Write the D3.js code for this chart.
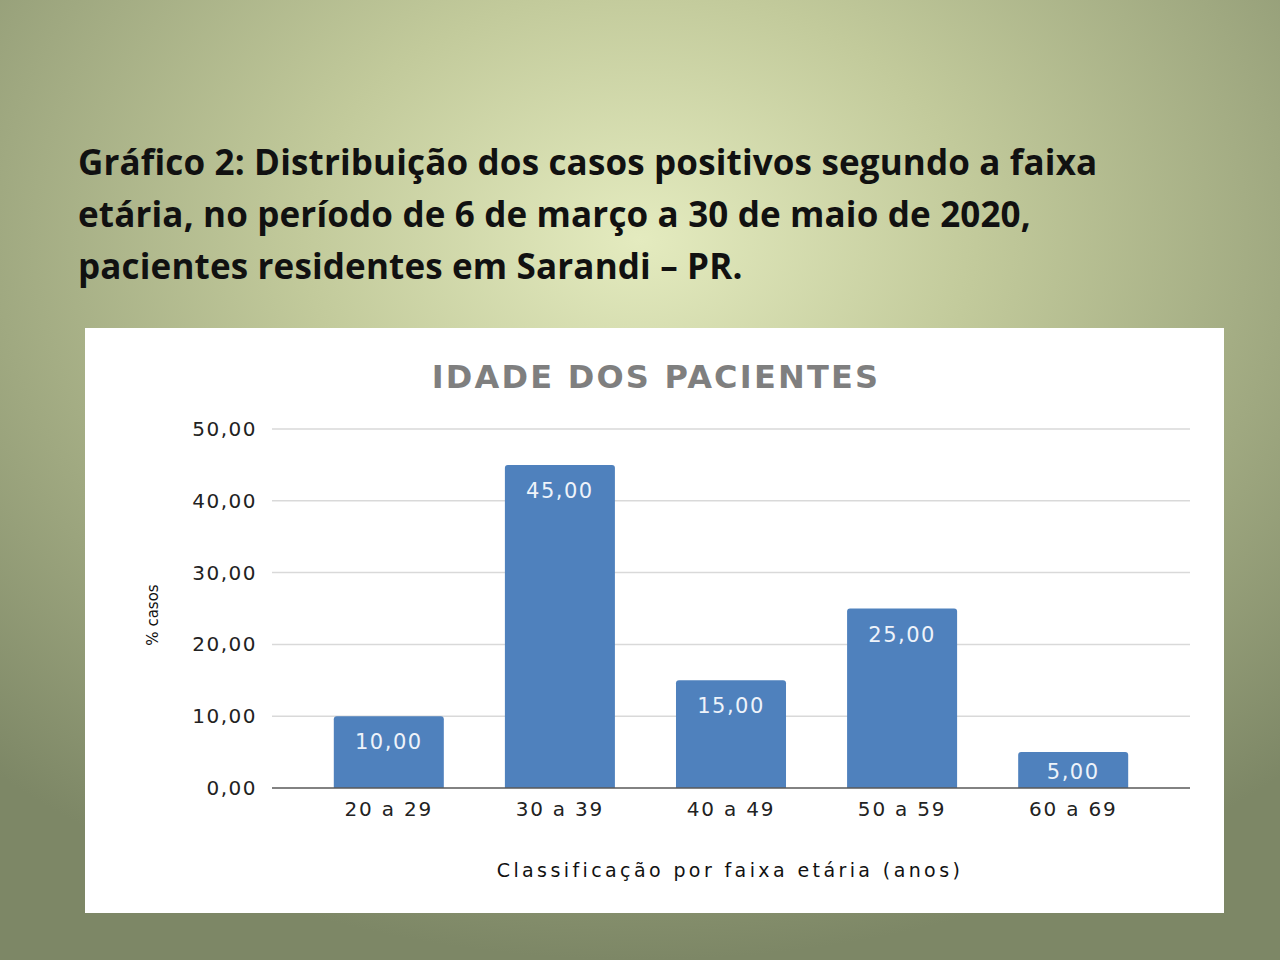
<!DOCTYPE html>
<html>
<head>
<meta charset="utf-8">
<script src="https://cdn.jsdelivr.net/npm/d3@7"></script>
<style>
  body { margin: 0; }
  svg { display: block; }
</style>
</head>
<body>
<svg id="slide" width="1280" height="960"></svg>
<script>
const titleLines = [
    "Gráfico 2: Distribuição dos casos positivos segundo a faixa",
    "etária, no período de 6 de março a 30 de maio de 2020,",
    "pacientes residentes em Sarandi – PR."
];
const categories = ["20 a 29", "30 a 39", "40 a 49", "50 a 59", "60 a 69"];
const values = [10, 45, 15, 25, 5];
const yTicks = [0, 10, 20, 30, 40, 50];

const fmt = v => d3.format(".2f")(v).replace(".", ",");

const svg = d3.select("#slide");

// background gradient
const defs = svg.append("defs");
const grad = defs.append("radialGradient")
    .attr("id", "bg")
    .attr("cx", 0.5).attr("cy", 0.25).attr("r", 0.75)
    .attr("fx", 0.5).attr("fy", 0.25);
grad.append("stop").attr("offset", "0%").attr("stop-color", "#e4ebbf");
grad.append("stop").attr("offset", "35%").attr("stop-color", "#c2ca9b");
grad.append("stop").attr("offset", "100%").attr("stop-color", "#7d8766");

svg.append("rect")
    .attr("width", 1280).attr("height", 960)
    .attr("fill", "url(#bg)");

// slide title
svg.append("g")
    .selectAll("text")
    .data(titleLines)
    .join("text")
    .attr("x", 78)
    .attr("y", (d, i) => 175 + i * 52)
    .attr("font-family", "'Open Sans', sans-serif")
    .attr("font-weight", 700)
    .attr("font-size", 35)
    .attr("letter-spacing", 0.15)
    .attr("fill", "#111")
    .text(d => d);

// chart panel
svg.append("rect")
    .attr("x", 85).attr("y", 328)
    .attr("width", 1139).attr("height", 585)
    .attr("fill", "#fff");

svg.append("text")
    .attr("x", 656).attr("y", 388)
    .attr("text-anchor", "middle")
    .attr("font-family", "'DejaVu Sans', sans-serif")
    .attr("font-weight", 700)
    .attr("font-size", 32)
    .attr("letter-spacing", 2.2)
    .attr("fill", "#7f7f7f")
    .text("IDADE DOS PACIENTES");

const yScale = d3.scaleLinear().domain([0, 50]).range([788, 429]);
const xScale = d3.scaleBand()
    .domain(categories)
    .range([303, 1159])
    .paddingInner(0.357)
    .paddingOuter(0.18);

const gridLeft = 272, gridRight = 1190;
const labelFont = "'DejaVu Sans', sans-serif";

// gridlines
svg.append("g")
    .selectAll("line")
    .data(yTicks.filter(d => d > 0))
    .join("line")
    .attr("x1", gridLeft).attr("x2", gridRight)
    .attr("y1", d => yScale(d)).attr("y2", d => yScale(d))
    .attr("stroke", "#d9d9d9")
    .attr("stroke-width", 1.5);

// y axis labels
const yAxis = svg.append("g")
    .attr("transform", `translate(${gridLeft},0)`)
    .call(d3.axisLeft(yScale).tickValues(yTicks).tickFormat(fmt).tickSize(0).tickPadding(15));
yAxis.select(".domain").remove();
yAxis.selectAll("text")
    .attr("font-family", labelFont)
    .attr("font-size", 20)
    .attr("letter-spacing", 1.5)
    .attr("fill", "#222");

// bars with slightly rounded tops
const r = 3;
svg.append("g")
    .selectAll("path")
    .data(values)
    .join("path")
    .attr("d", (d, i) => {
        const x0 = xScale(categories[i]), w = xScale.bandwidth();
        const y0 = yScale(d), y1 = yScale(0);
        return `M${x0},${y1}V${y0 + r}Q${x0},${y0} ${x0 + r},${y0}H${x0 + w - r}` +
               `Q${x0 + w},${y0} ${x0 + w},${y0 + r}V${y1}Z`;
    })
    .attr("fill", "#4f81bd");

svg.append("g")
    .selectAll("text")
    .data(values)
    .join("text")
    .attr("x", (d, i) => xScale(categories[i]) + xScale.bandwidth() / 2)
    .attr("y", d => Math.min(yScale(d) + 33, yScale(0) - 9))
    .attr("text-anchor", "middle")
    .attr("font-family", labelFont)
    .attr("font-size", 21)
    .attr("letter-spacing", 1.5)
    .attr("fill", "#eef3fa")
    .text(fmt);

// x axis
const xAxis = svg.append("g")
    .attr("transform", `translate(0,${yScale(0)})`)
    .call(d3.axisBottom(xScale).tickSize(0).tickPadding(14));
xAxis.select(".domain").remove();
xAxis.selectAll("text")
    .attr("font-family", labelFont)
    .attr("font-size", 20)
    .attr("letter-spacing", 1.8)
    .attr("fill", "#222");

svg.append("line")
    .attr("x1", gridLeft).attr("x2", gridRight)
    .attr("y1", yScale(0)).attr("y2", yScale(0))
    .attr("stroke", "#595959")
    .attr("stroke-width", 1.5);

// axis titles
svg.append("text")
    .attr("x", 730).attr("y", 877)
    .attr("text-anchor", "middle")
    .attr("font-family", labelFont)
    .attr("font-size", 19)
    .attr("letter-spacing", 3.4)
    .attr("fill", "#111")
    .text("Classificação por faixa etária (anos)");

svg.append("text")
    .attr("transform", "translate(158,615) rotate(-90)")
    .attr("text-anchor", "middle")
    .attr("font-family", labelFont)
    .attr("font-size", 15)
    .attr("fill", "#111")
    .text("% casos");
</script>
</body>
</html>
